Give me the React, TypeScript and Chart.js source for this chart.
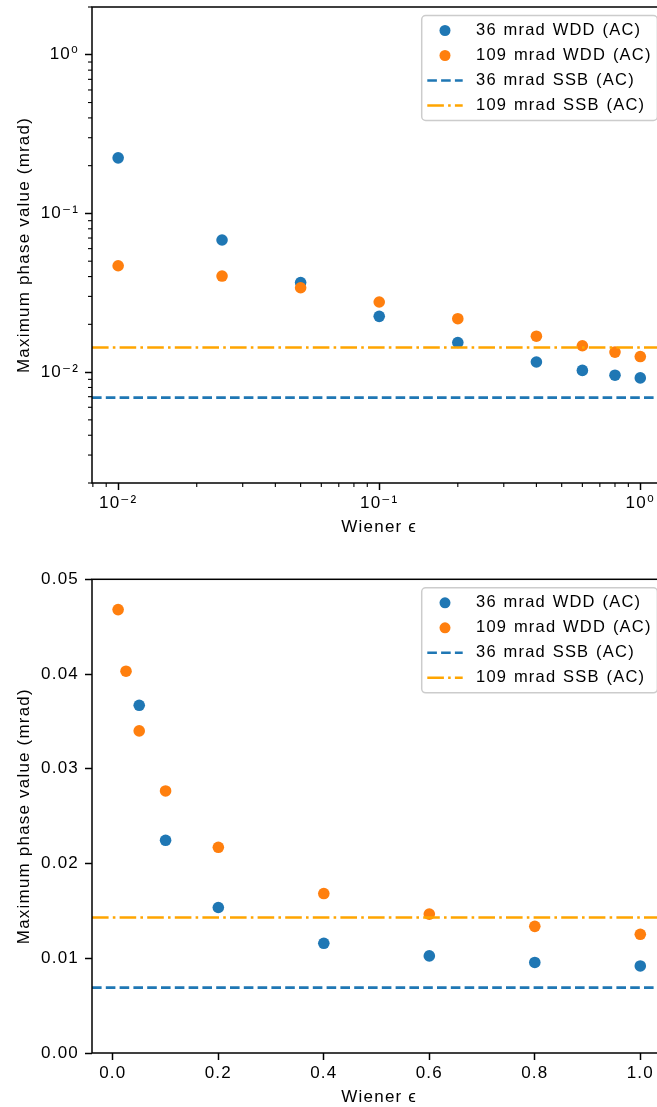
import React, { useEffect, useRef } from 'react';
import { Chart, registerables } from 'chart.js';

Chart.register(...registerables);

// ---------------- data ----------------
const epsilons = [0.01, 0.025, 0.05, 0.1, 0.2, 0.4, 0.6, 0.8, 1.0];
const wdd36 = [0.224, 0.068, 0.0367, 0.02245, 0.01536, 0.01158, 0.01025, 0.00956, 0.00919];
const wdd109 = [0.0468, 0.0403, 0.034, 0.02766, 0.02171, 0.01683, 0.01466, 0.01337, 0.01253];
const ssb36 = 0.0069;
const ssb109 = 0.0143;
const seriesLabels = ['36 mrad WDD (AC)', '109 mrad WDD (AC)', '36 mrad SSB (AC)', '109 mrad SSB (AC)'];

const logXRange = [0.00794, 1.259];
const logYRange = [0.002, 2];
const logMajorTicks = [0.01, 0.1, 1];
const logTickLabels = ['10⁻²', '10⁻¹', '10⁰'];
const logMinorMultipliers = [2, 3, 4, 5, 6, 7, 8, 9];

const linXRange = [-0.0395, 1.0495];
const linYRange = [0, 0.05];
const linXTicks = [0, 0.2, 0.4, 0.6, 0.8, 1.0];
const linXTickLabels = ['0.0', '0.2', '0.4', '0.6', '0.8', '1.0'];
const linYTicks = [0, 0.01, 0.02, 0.03, 0.04, 0.05];
const linYTickLabels = ['0.00', '0.01', '0.02', '0.03', '0.04', '0.05'];

const xTitle = 'Wiener ϵ';
const yTitle = 'Maximum phase value (mrad)';

// ---------------- style ----------------
const FONT = '"Liberation Sans", Arial, Helvetica, "DejaVu Sans", sans-serif';
Chart.defaults.font.family = FONT;
Chart.defaults.font.size = 17;
Chart.defaults.color = '#000';

const BLUE = '#1f77b4';
const ORANGE = '#ff7f0e';
const GOLD = '#ffa500';

const CANVAS_W = 690;
const AREA_RIGHT = 666.4;
const AREA_LEFT = 92;
const XAXIS_H = 67;
const LETTER = '1.2px';

function minorValues(min: number, max: number): number[] {
  const out: number[] = [];
  const e0 = Math.floor(Math.log10(min)) - 1;
  const e1 = Math.ceil(Math.log10(max)) + 1;
  for (let e = e0; e <= e1; e++) {
    for (const m of logMinorMultipliers) {
      const v = m * Math.pow(10, e);
      if (v >= min * 0.9999 && v <= max * 1.0001) out.push(v);
    }
  }
  return out;
}

const spacingPlugin = {
  id: 'spacing',
  beforeUpdate(chart: any) {
    chart.ctx.letterSpacing = LETTER;
  },
  beforeDraw(chart: any) {
    chart.ctx.letterSpacing = LETTER;
  },
};

const framePlugin = {
  id: 'mplFrame',
  afterDatasetsDraw(chart: any, _args: any, opts: any) {
    const { ctx, chartArea: a } = chart;
    ctx.save();
    ctx.strokeStyle = '#000';
    if (opts && opts.minor) {
      ctx.lineWidth = 1.1;
      const xs = chart.scales.x;
      const ys = chart.scales.y;
      for (const v of minorValues(xs.min, xs.max)) {
        const px = xs.getPixelForValue(v);
        ctx.beginPath();
        ctx.moveTo(px, a.bottom);
        ctx.lineTo(px, a.bottom + 4);
        ctx.stroke();
      }
      for (const v of minorValues(ys.min, ys.max)) {
        const py = ys.getPixelForValue(v);
        ctx.beginPath();
        ctx.moveTo(a.left - 4, py);
        ctx.lineTo(a.left, py);
        ctx.stroke();
      }
    }
    ctx.lineWidth = 1.5;
    ctx.strokeRect(a.left, a.top, a.right - a.left, a.bottom - a.top);
    ctx.restore();
  },
};

const legendPlugin = {
  id: 'mplLegend',
  afterDraw(chart: any, _args: any, opts: any) {
    const { ctx, chartArea: a } = chart;
    const left = a.right - 244.7;
    const right = a.right - 9;
    const top = a.top + (opts && opts.offset != null ? opts.offset : 8.5);
    const height = 105;
    ctx.save();
    ctx.beginPath();
    ctx.roundRect(left, top, right - left, height, 4);
    ctx.fillStyle = 'rgba(255,255,255,0.8)';
    ctx.fill();
    ctx.strokeStyle = '#cccccc';
    ctx.lineWidth = 1.5;
    ctx.stroke();
    const datasets = chart.data.datasets;
    datasets.forEach((ds: any, i: number) => {
      const cy = top + 15 + i * 25;
      if (ds.showLine) {
        ctx.save();
        ctx.strokeStyle = ds.borderColor;
        ctx.lineWidth = ds.borderWidth;
        ctx.setLineDash(ds.borderDash || []);
        ctx.beginPath();
        ctx.moveTo(left + 5.6, cy);
        ctx.lineTo(left + 41, cy);
        ctx.stroke();
        ctx.restore();
      } else {
        ctx.beginPath();
        ctx.arc(left + 23.3, cy, 5.5, 0, Math.PI * 2);
        ctx.fillStyle = ds.backgroundColor;
        ctx.fill();
      }
      ctx.fillStyle = '#000';
      ctx.font = `16.5px ${FONT}`;
      ctx.letterSpacing = LETTER;
      (ctx as any).wordSpacing = '1px';
      ctx.textAlign = 'left';
      ctx.textBaseline = 'middle';
      ctx.fillText(ds.label, left + 54.3, cy);
    });
    ctx.restore();
  },
};

function makeConfig(log: boolean, padTop: number): any {
  const xr = log ? logXRange : linXRange;
  const yr = log ? logYRange : linYRange;
  const xt = log ? logMajorTicks : linXTicks;
  const xl = log ? logTickLabels : linXTickLabels;
  const yt = log ? logMajorTicks : linYTicks;
  const yl = log ? logTickLabels : linYTickLabels;

  const tickFont = { size: 17, family: FONT };
  const grid = {
    display: true,
    drawOnChartArea: false,
    drawTicks: true,
    tickLength: 7,
    tickWidth: 1.5,
    tickColor: '#000',
  };

  return {
    type: 'scatter',
    data: {
      datasets: [
        {
          label: seriesLabels[0],
          data: epsilons.map((x, i) => ({ x, y: wdd36[i] })),
          backgroundColor: BLUE,
          borderColor: BLUE,
          pointRadius: 5.8,
          pointBorderWidth: 0,
          pointHoverRadius: 5.8,
          order: 3,
        },
        {
          label: seriesLabels[1],
          data: epsilons.map((x, i) => ({ x, y: wdd109[i] })),
          backgroundColor: ORANGE,
          borderColor: ORANGE,
          pointRadius: 5.8,
          pointBorderWidth: 0,
          pointHoverRadius: 5.8,
          order: 2,
        },
        {
          label: seriesLabels[2],
          data: [
            { x: xr[0], y: ssb36 },
            { x: xr[1], y: ssb36 },
          ],
          showLine: true,
          borderColor: BLUE,
          backgroundColor: BLUE,
          borderWidth: 2.6,
          borderDash: [9.6, 4.2],
          pointRadius: 0,
          fill: false,
          order: 1,
        },
        {
          label: seriesLabels[3],
          data: [
            { x: xr[0], y: ssb109 },
            { x: xr[1], y: ssb109 },
          ],
          showLine: true,
          borderColor: GOLD,
          backgroundColor: GOLD,
          borderWidth: 2.6,
          borderDash: [16.6, 4.2, 2.6, 4.2],
          pointRadius: 0,
          fill: false,
          order: 0,
        },
      ],
    },
    options: {
      responsive: false,
      animation: false,
      events: [],
      layout: {
        autoPadding: false,
        padding: { top: padTop, right: CANVAS_W - AREA_RIGHT, bottom: 0, left: 0 },
      },
      plugins: {
        legend: { display: false },
        tooltip: { enabled: false },
        mplFrame: { minor: log },
        mplLegend: { offset: 8.5 },
      },
      scales: {
        x: {
          type: log ? 'logarithmic' : 'linear',
          min: xr[0],
          max: xr[1],
          bounds: 'data',
          afterBuildTicks: (s: any) => {
            s.ticks = xt.map((v) => ({ value: v }));
          },
          afterFit: (s: any) => {
            s.height = XAXIS_H;
            s.paddingLeft = 0;
            s.paddingRight = 0;
          },
          ticks: {
            callback: (_v: any, i: number) => xl[i],
            maxRotation: 0,
            minRotation: 0,
            autoSkip: false,
            padding: 3.5,
            color: '#000',
            font: tickFont,
          },
          grid,
          border: { display: false },
          title: {
            display: true,
            text: xTitle,
            color: '#000',
            font: tickFont,
            padding: { top: 0, bottom: 12.6 },
          },
        },
        y: {
          type: log ? 'logarithmic' : 'linear',
          min: yr[0],
          max: yr[1],
          bounds: 'data',
          afterBuildTicks: (s: any) => {
            s.ticks = yt.map((v) => ({ value: v }));
          },
          afterFit: (s: any) => {
            s.width = AREA_LEFT;
            s.paddingTop = 0;
            s.paddingBottom = 0;
          },
          ticks: {
            callback: (_v: any, i: number) => yl[i],
            autoSkip: false,
            padding: 6,
            color: '#000',
            font: tickFont,
          },
          grid,
          border: { display: false },
          title: {
            display: true,
            text: yTitle,
            color: '#000',
            font: tickFont,
            padding: { top: 13.8, bottom: 0 },
          },
        },
      },
    },
    plugins: [spacingPlugin, framePlugin, legendPlugin],
  };
}

function Panel({ log, top, height, padTop }: { log: boolean; top: number; height: number; padTop: number }) {
  const ref = useRef<HTMLCanvasElement>(null);
  useEffect(() => {
    if (!ref.current) return;
    const chart = new Chart(ref.current, makeConfig(log, padTop));
    return () => chart.destroy();
  }, [log, padTop]);
  return (
    <canvas
      ref={ref}
      width={CANVAS_W}
      height={height}
      style={{ position: 'absolute', left: 0, top, width: CANVAS_W, height, display: 'block' }}
    />
  );
}

export default function App() {
  return (
    <div
      style={{
        position: 'fixed',
        left: 0,
        top: 0,
        width: 657,
        height: 1107,
        overflow: 'hidden',
        background: '#fff',
      }}
    >
      <Panel log={true} top={0} height={550} padTop={7} />
      <Panel log={false} top={550} height={570} padTop={29.3} />
    </div>
  );
}
